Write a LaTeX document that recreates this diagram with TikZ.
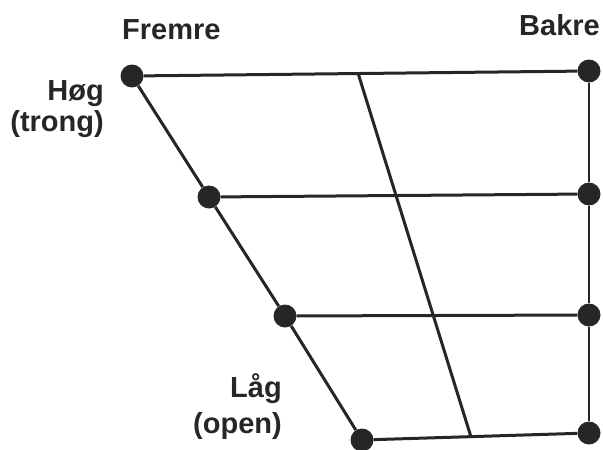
\documentclass[tikz,border=0pt]{standalone}
\usepackage{fontspec}
\setmainfont{Liberation Sans}
\usepackage{tikz}
\usetikzlibrary{positioning}

\begin{document}
\begin{tikzpicture}[x=1pt, y=-1pt, font=\fontsize{29}{33}\selectfont\bfseries,
    vowel/.style={circle, fill=black!85, inner sep=0pt, minimum size=23pt},
    edge/.style={draw=black!85, line width=3pt},
    label/.style={text=black!85, inner sep=0pt}]
    \useasboundingbox (0,0) rectangle (603,450);
    % front and back corner points, high to low
    \node [vowel] (f1) at (132,76)  {};
    \node [vowel] (f2) at (209,197) {};
    \node [vowel] (f3) at (285,316) {};
    \node [vowel] (f4) at (362,440) {};
    \node [vowel] (b1) at (589,71)  {};
    \node [vowel] (b2) at (589,194) {};
    \node [vowel] (b3) at (589,315) {};
    \node [vowel] (b4) at (589,433) {};
    \coordinate (m1) at (358,73);
    \coordinate (m2) at (471,437);
    \draw [edge] (f1) -- (f2) -- (f3) -- (f4);
    \foreach \i in {1,...,4}
      \draw [edge] (f\i) -- (b\i);
    \draw [edge] (m1) -- (m2);
    \draw [draw=black!85, line width=1.4pt] (b1) -- (b2) -- (b3) -- (b4);
    \node [label, anchor=base west] (front) at (122,39) {Fremre};
    \node [label, anchor=base east] (back) at (600,35) {Bakre};
    \node [label, anchor=base east] (high) at (104,100) {Høg};
    \node [label, anchor=base east] (close) at (104,131) {(trong)};
    \node [label, anchor=base east] (low) at (282,397) {Låg};
    \node [label, anchor=base east] (open) at (282,433) {(open)};
  \end{tikzpicture}
\end{document}
